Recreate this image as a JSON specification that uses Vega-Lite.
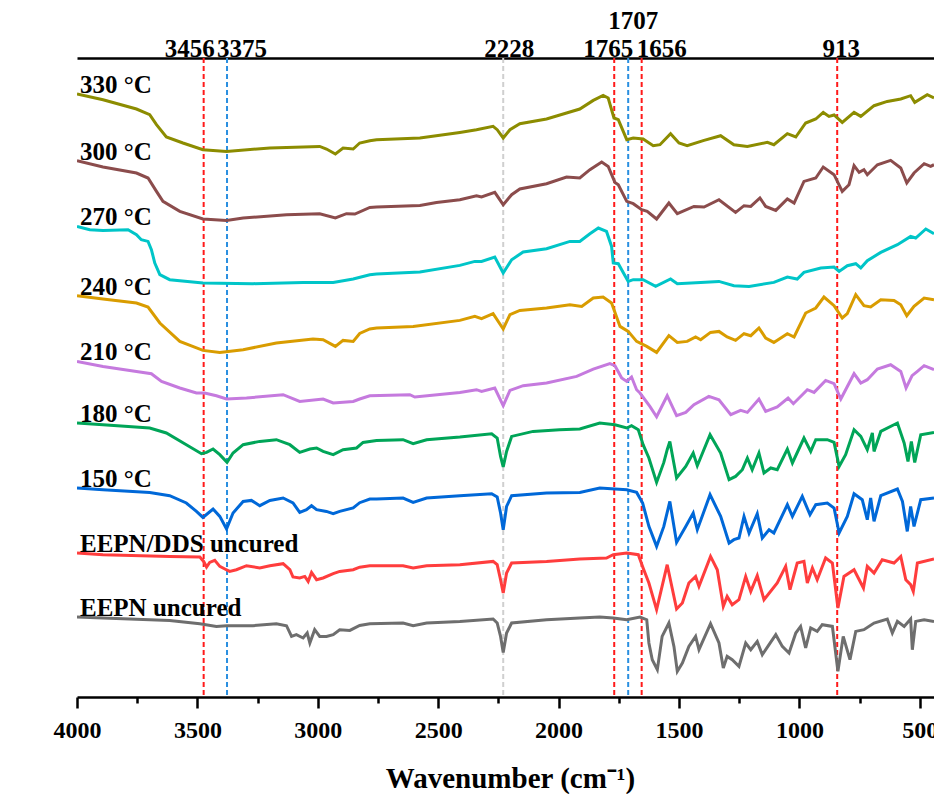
{
"$schema":"https://vega.github.io/schema/vega-lite/v6.json",
"width":857,"height":639,
"autosize":{"type":"none"},
"padding":{"left":77,"top":58,"right":0,"bottom":97},
"background":"white",
"config":{"view":{"stroke":null},"font":"Liberation Serif","axis":{"ticks":true,"tickOpacity":1,"tickColor":"#000000"}},
"resolve":{"axis":{"x":"independent"}},
"datasets":{
"peaks":[{"label":"3456","wn":3474},{"label":"3375","wn":3377},{"label":"2228","wn":2230},{"label":"1765","wn":1769},{"label":"1707","wn":1711},{"label":"1656","wn":1655},{"label":"913","wn":843}],
"spectra":[
{"s":"330 °C","w":4000,"t":603},{"s":"330 °C","w":3892,"t":597.3},{"s":"330 °C","w":3753,"t":588},{"s":"330 °C","w":3698,"t":582.3},{"s":"330 °C","w":3670,"t":572.3},{"s":"330 °C","w":3629,"t":560},{"s":"330 °C","w":3560,"t":554},{"s":"330 °C","w":3477,"t":547.3},{"s":"330 °C","w":3379,"t":545.6},{"s":"330 °C","w":3199,"t":549},{"s":"330 °C","w":2992,"t":550.6},{"s":"330 °C","w":2964,"t":548},{"s":"330 °C","w":2927,"t":543},{"s":"330 °C","w":2895,"t":549},{"s":"330 °C","w":2853,"t":548},{"s":"330 °C","w":2826,"t":554},{"s":"330 °C","w":2784,"t":556.3},{"s":"330 °C","w":2756,"t":557.3},{"s":"330 °C","w":2576,"t":559},{"s":"330 °C","w":2410,"t":564.6},{"s":"330 °C","w":2341,"t":567.3},{"s":"330 °C","w":2272,"t":570.6},{"s":"330 °C","w":2255,"t":567.3},{"s":"330 °C","w":2230,"t":559},{"s":"330 °C","w":2202,"t":567.3},{"s":"330 °C","w":2161,"t":573.3},{"s":"330 °C","w":2050,"t":578},{"s":"330 °C","w":1967,"t":584},{"s":"330 °C","w":1912,"t":588},{"s":"330 °C","w":1856,"t":596.6},{"s":"330 °C","w":1815,"t":601.6},{"s":"330 °C","w":1794,"t":599},{"s":"330 °C","w":1770,"t":579},{"s":"330 °C","w":1752,"t":577.3},{"s":"330 °C","w":1717,"t":557.3},{"s":"330 °C","w":1690,"t":559},{"s":"330 °C","w":1649,"t":558},{"s":"330 °C","w":1607,"t":551.3},{"s":"330 °C","w":1579,"t":552.3},{"s":"330 °C","w":1535,"t":563.3},{"s":"330 °C","w":1500,"t":554},{"s":"330 °C","w":1466,"t":551.3},{"s":"330 °C","w":1396,"t":556.6},{"s":"330 °C","w":1327,"t":561.3},{"s":"330 °C","w":1272,"t":552.3},{"s":"330 °C","w":1216,"t":550.6},{"s":"330 °C","w":1133,"t":554.6},{"s":"330 °C","w":1106,"t":552.3},{"s":"330 °C","w":1050,"t":563.3},{"s":"330 °C","w":1015,"t":560},{"s":"330 °C","w":974,"t":574},{"s":"330 °C","w":932,"t":578},{"s":"330 °C","w":901,"t":584.6},{"s":"330 °C","w":877,"t":580.6},{"s":"330 °C","w":856,"t":582},{"s":"330 °C","w":822,"t":574.6},{"s":"330 °C","w":773,"t":584.6},{"s":"330 °C","w":745,"t":580.6},{"s":"330 °C","w":690,"t":591.3},{"s":"330 °C","w":635,"t":595.6},{"s":"330 °C","w":579,"t":598},{"s":"330 °C","w":538,"t":601.3},{"s":"330 °C","w":521,"t":594.6},{"s":"330 °C","w":469,"t":602.3},{"s":"330 °C","w":441,"t":599},
{"s":"300 °C","w":4000,"t":536.3},{"s":"300 °C","w":3892,"t":530},{"s":"300 °C","w":3753,"t":524},{"s":"300 °C","w":3705,"t":519},{"s":"300 °C","w":3670,"t":505.6},{"s":"300 °C","w":3643,"t":495.6},{"s":"300 °C","w":3573,"t":485.6},{"s":"300 °C","w":3477,"t":478},{"s":"300 °C","w":3379,"t":476.6},{"s":"300 °C","w":3310,"t":479},{"s":"300 °C","w":3130,"t":482.3},{"s":"300 °C","w":2992,"t":483.3},{"s":"300 °C","w":2927,"t":479},{"s":"300 °C","w":2881,"t":483.3},{"s":"300 °C","w":2846,"t":483},{"s":"300 °C","w":2784,"t":489.6},{"s":"300 °C","w":2756,"t":490},{"s":"300 °C","w":2576,"t":491.6},{"s":"300 °C","w":2507,"t":494.6},{"s":"300 °C","w":2410,"t":497.3},{"s":"300 °C","w":2341,"t":501.3},{"s":"300 °C","w":2320,"t":500},{"s":"300 °C","w":2265,"t":504.6},{"s":"300 °C","w":2230,"t":492.3},{"s":"300 °C","w":2195,"t":502.3},{"s":"300 °C","w":2161,"t":508},{"s":"300 °C","w":2050,"t":513.3},{"s":"300 °C","w":1967,"t":520},{"s":"300 °C","w":1912,"t":519},{"s":"300 °C","w":1870,"t":527.3},{"s":"300 °C","w":1821,"t":535},{"s":"300 °C","w":1794,"t":530.6},{"s":"300 °C","w":1766,"t":514.6},{"s":"300 °C","w":1752,"t":512.3},{"s":"300 °C","w":1717,"t":495.6},{"s":"300 °C","w":1690,"t":493.3},{"s":"300 °C","w":1655,"t":487.3},{"s":"300 °C","w":1632,"t":485.6},{"s":"300 °C","w":1593,"t":478},{"s":"300 °C","w":1542,"t":494},{"s":"300 °C","w":1507,"t":483.3},{"s":"300 °C","w":1438,"t":490.6},{"s":"300 °C","w":1396,"t":490},{"s":"300 °C","w":1334,"t":497.3},{"s":"300 °C","w":1265,"t":484.6},{"s":"300 °C","w":1230,"t":491.3},{"s":"300 °C","w":1202,"t":490.6},{"s":"300 °C","w":1164,"t":499},{"s":"300 °C","w":1140,"t":490.6},{"s":"300 °C","w":1098,"t":486.6},{"s":"300 °C","w":1050,"t":498},{"s":"300 °C","w":1022,"t":494},{"s":"300 °C","w":981,"t":515.6},{"s":"300 °C","w":932,"t":519},{"s":"300 °C","w":901,"t":530},{"s":"300 °C","w":856,"t":522.3},{"s":"300 °C","w":822,"t":505.6},{"s":"300 °C","w":794,"t":512.3},{"s":"300 °C","w":773,"t":531.3},{"s":"300 °C","w":752,"t":524.6},{"s":"300 °C","w":732,"t":527.3},{"s":"300 °C","w":718,"t":522.3},{"s":"300 °C","w":676,"t":532.3},{"s":"300 °C","w":621,"t":536.6},{"s":"300 °C","w":579,"t":529},{"s":"300 °C","w":554,"t":514},{"s":"300 °C","w":524,"t":524},{"s":"300 °C","w":482,"t":533.3},{"s":"300 °C","w":455,"t":530.6},{"s":"300 °C","w":441,"t":532.3},
{"s":"270 °C","w":4000,"t":470.6},{"s":"270 °C","w":3947,"t":467.3},{"s":"270 °C","w":3892,"t":466.6},{"s":"270 °C","w":3788,"t":467.3},{"s":"270 °C","w":3753,"t":462.3},{"s":"270 °C","w":3733,"t":457.3},{"s":"270 °C","w":3705,"t":455.6},{"s":"270 °C","w":3691,"t":447.3},{"s":"270 °C","w":3677,"t":434},{"s":"270 °C","w":3656,"t":422.3},{"s":"270 °C","w":3615,"t":417.3},{"s":"270 °C","w":3477,"t":414},{"s":"270 °C","w":3269,"t":413.3},{"s":"270 °C","w":3061,"t":414.6},{"s":"270 °C","w":2936,"t":414.6},{"s":"270 °C","w":2853,"t":418},{"s":"270 °C","w":2784,"t":422.3},{"s":"270 °C","w":2756,"t":423},{"s":"270 °C","w":2576,"t":425},{"s":"270 °C","w":2410,"t":431.6},{"s":"270 °C","w":2348,"t":435.6},{"s":"270 °C","w":2320,"t":435.6},{"s":"270 °C","w":2265,"t":440},{"s":"270 °C","w":2230,"t":424},{"s":"270 °C","w":2195,"t":437.3},{"s":"270 °C","w":2147,"t":445},{"s":"270 °C","w":2050,"t":448.3},{"s":"270 °C","w":1953,"t":455.6},{"s":"270 °C","w":1912,"t":455.6},{"s":"270 °C","w":1870,"t":463.3},{"s":"270 °C","w":1835,"t":469},{"s":"270 °C","w":1801,"t":465.6},{"s":"270 °C","w":1780,"t":450.6},{"s":"270 °C","w":1773,"t":434},{"s":"270 °C","w":1752,"t":433.3},{"s":"270 °C","w":1711,"t":415.6},{"s":"270 °C","w":1690,"t":417.3},{"s":"270 °C","w":1649,"t":417.3},{"s":"270 °C","w":1597,"t":410.6},{"s":"270 °C","w":1535,"t":418},{"s":"270 °C","w":1507,"t":413.3},{"s":"270 °C","w":1410,"t":414.6},{"s":"270 °C","w":1334,"t":415.6},{"s":"270 °C","w":1272,"t":411.3},{"s":"270 °C","w":1209,"t":410.6},{"s":"270 °C","w":1106,"t":414.6},{"s":"270 °C","w":1050,"t":420},{"s":"270 °C","w":1009,"t":418},{"s":"270 °C","w":981,"t":424.6},{"s":"270 °C","w":911,"t":429},{"s":"270 °C","w":856,"t":430},{"s":"270 °C","w":835,"t":425.6},{"s":"270 °C","w":801,"t":431.3},{"s":"270 °C","w":766,"t":433.3},{"s":"270 °C","w":745,"t":429},{"s":"270 °C","w":718,"t":436.3},{"s":"270 °C","w":662,"t":444.6},{"s":"270 °C","w":593,"t":452.3},{"s":"270 °C","w":538,"t":460.6},{"s":"270 °C","w":517,"t":459},{"s":"270 °C","w":475,"t":468},{"s":"270 °C","w":441,"t":463.3},
{"s":"240 °C","w":4000,"t":401.3},{"s":"240 °C","w":3892,"t":398},{"s":"240 °C","w":3753,"t":394},{"s":"240 °C","w":3705,"t":390},{"s":"240 °C","w":3656,"t":374},{"s":"240 °C","w":3573,"t":355.6},{"s":"240 °C","w":3477,"t":346.6},{"s":"240 °C","w":3407,"t":344.6},{"s":"240 °C","w":3310,"t":347.3},{"s":"240 °C","w":3172,"t":354},{"s":"240 °C","w":3020,"t":358},{"s":"240 °C","w":2978,"t":357.3},{"s":"240 °C","w":2927,"t":350.6},{"s":"240 °C","w":2895,"t":356.6},{"s":"240 °C","w":2853,"t":355.6},{"s":"240 °C","w":2826,"t":363.5},{"s":"240 °C","w":2784,"t":368},{"s":"240 °C","w":2756,"t":369},{"s":"240 °C","w":2604,"t":370.6},{"s":"240 °C","w":2410,"t":376.6},{"s":"240 °C","w":2348,"t":380.6},{"s":"240 °C","w":2320,"t":378.3},{"s":"240 °C","w":2272,"t":383.3},{"s":"240 °C","w":2230,"t":368},{"s":"240 °C","w":2202,"t":382.3},{"s":"240 °C","w":2161,"t":386.6},{"s":"240 °C","w":2050,"t":389},{"s":"240 °C","w":1953,"t":392.3},{"s":"240 °C","w":1904,"t":390.6},{"s":"240 °C","w":1856,"t":399},{"s":"240 °C","w":1815,"t":400},{"s":"240 °C","w":1780,"t":394},{"s":"240 °C","w":1745,"t":370.6},{"s":"240 °C","w":1711,"t":365.6},{"s":"240 °C","w":1676,"t":355.6},{"s":"240 °C","w":1634,"t":350.6},{"s":"240 °C","w":1593,"t":344.6},{"s":"240 °C","w":1542,"t":361.3},{"s":"240 °C","w":1507,"t":354.6},{"s":"240 °C","w":1466,"t":355.6},{"s":"240 °C","w":1431,"t":360},{"s":"240 °C","w":1410,"t":357.3},{"s":"240 °C","w":1369,"t":364.6},{"s":"240 °C","w":1334,"t":365.6},{"s":"240 °C","w":1300,"t":360},{"s":"240 °C","w":1265,"t":356.6},{"s":"240 °C","w":1230,"t":363.3},{"s":"240 °C","w":1202,"t":361.3},{"s":"240 °C","w":1168,"t":369},{"s":"240 °C","w":1140,"t":359},{"s":"240 °C","w":1106,"t":354.6},{"s":"240 °C","w":1050,"t":363.3},{"s":"240 °C","w":1022,"t":360},{"s":"240 °C","w":974,"t":384},{"s":"240 °C","w":932,"t":389},{"s":"240 °C","w":898,"t":400},{"s":"240 °C","w":856,"t":391.3},{"s":"240 °C","w":822,"t":379},{"s":"240 °C","w":801,"t":383.3},{"s":"240 °C","w":766,"t":402.3},{"s":"240 °C","w":732,"t":391.3},{"s":"240 °C","w":704,"t":390},{"s":"240 °C","w":662,"t":397.3},{"s":"240 °C","w":607,"t":396.6},{"s":"240 °C","w":579,"t":392.3},{"s":"240 °C","w":554,"t":381.3},{"s":"240 °C","w":524,"t":390.6},{"s":"240 °C","w":482,"t":399},{"s":"240 °C","w":441,"t":397.3},
{"s":"210 °C","w":4000,"t":335.6},{"s":"210 °C","w":3892,"t":330.6},{"s":"210 °C","w":3753,"t":325.6},{"s":"210 °C","w":3691,"t":323.3},{"s":"210 °C","w":3649,"t":315.6},{"s":"210 °C","w":3573,"t":309},{"s":"210 °C","w":3504,"t":304},{"s":"210 °C","w":3470,"t":304},{"s":"210 °C","w":3421,"t":301.3},{"s":"210 °C","w":3379,"t":298},{"s":"210 °C","w":3296,"t":299},{"s":"210 °C","w":3144,"t":302.3},{"s":"210 °C","w":3075,"t":295.6},{"s":"210 °C","w":2978,"t":298},{"s":"210 °C","w":2936,"t":294},{"s":"210 °C","w":2853,"t":295.6},{"s":"210 °C","w":2826,"t":298},{"s":"210 °C","w":2784,"t":301.3},{"s":"210 °C","w":2618,"t":302.3},{"s":"210 °C","w":2597,"t":300},{"s":"210 °C","w":2410,"t":304.6},{"s":"210 °C","w":2341,"t":307.3},{"s":"210 °C","w":2320,"t":305.6},{"s":"210 °C","w":2265,"t":309},{"s":"210 °C","w":2230,"t":291.3},{"s":"210 °C","w":2202,"t":306.6},{"s":"210 °C","w":2147,"t":311.3},{"s":"210 °C","w":2050,"t":314},{"s":"210 °C","w":1925,"t":320.6},{"s":"210 °C","w":1856,"t":327.8},{"s":"210 °C","w":1787,"t":333.3},{"s":"210 °C","w":1766,"t":331.3},{"s":"210 °C","w":1738,"t":319},{"s":"210 °C","w":1717,"t":315.6},{"s":"210 °C","w":1697,"t":320},{"s":"210 °C","w":1676,"t":307.3},{"s":"210 °C","w":1662,"t":304},{"s":"210 °C","w":1621,"t":290.6},{"s":"210 °C","w":1593,"t":280.3},{"s":"210 °C","w":1549,"t":301.3},{"s":"210 °C","w":1510,"t":281.3},{"s":"210 °C","w":1472,"t":284.6},{"s":"210 °C","w":1438,"t":292.3},{"s":"210 °C","w":1376,"t":300.6},{"s":"210 °C","w":1334,"t":297.3},{"s":"210 °C","w":1285,"t":282.3},{"s":"210 °C","w":1244,"t":286.6},{"s":"210 °C","w":1216,"t":284.6},{"s":"210 °C","w":1168,"t":298},{"s":"210 °C","w":1140,"t":285.6},{"s":"210 °C","w":1092,"t":290},{"s":"210 °C","w":1047,"t":299},{"s":"210 °C","w":1025,"t":293.3},{"s":"210 °C","w":967,"t":307.3},{"s":"210 °C","w":939,"t":304.6},{"s":"210 °C","w":891,"t":316.6},{"s":"210 °C","w":856,"t":313.3},{"s":"210 °C","w":828,"t":298},{"s":"210 °C","w":773,"t":323.3},{"s":"210 °C","w":745,"t":314},{"s":"210 °C","w":718,"t":317.3},{"s":"210 °C","w":676,"t":328},{"s":"210 °C","w":621,"t":332.3},{"s":"210 °C","w":579,"t":325.6},{"s":"210 °C","w":557,"t":309},{"s":"210 °C","w":532,"t":321.3},{"s":"210 °C","w":510,"t":325.6},{"s":"210 °C","w":482,"t":331.3},{"s":"210 °C","w":441,"t":327.3},
{"s":"180 °C","w":4000,"t":274},{"s":"180 °C","w":3892,"t":272.3},{"s":"180 °C","w":3698,"t":269},{"s":"180 °C","w":3629,"t":264},{"s":"180 °C","w":3546,"t":252.3},{"s":"180 °C","w":3483,"t":243.3},{"s":"180 °C","w":3462,"t":244.6},{"s":"180 °C","w":3435,"t":248},{"s":"180 °C","w":3407,"t":242.3},{"s":"180 °C","w":3377,"t":234.6},{"s":"180 °C","w":3352,"t":244},{"s":"180 °C","w":3310,"t":252.3},{"s":"180 °C","w":3241,"t":255.6},{"s":"180 °C","w":3172,"t":257.3},{"s":"180 °C","w":3116,"t":252.3},{"s":"180 °C","w":3075,"t":244.6},{"s":"180 °C","w":3033,"t":248},{"s":"180 °C","w":3005,"t":249},{"s":"180 °C","w":2978,"t":245.6},{"s":"180 °C","w":2936,"t":242.3},{"s":"180 °C","w":2895,"t":247.3},{"s":"180 °C","w":2839,"t":249},{"s":"180 °C","w":2812,"t":254.6},{"s":"180 °C","w":2756,"t":256.6},{"s":"180 °C","w":2646,"t":257.3},{"s":"180 °C","w":2604,"t":253.3},{"s":"180 °C","w":2548,"t":257.3},{"s":"180 °C","w":2410,"t":260},{"s":"180 °C","w":2278,"t":263.3},{"s":"180 °C","w":2255,"t":259},{"s":"180 °C","w":2241,"t":240.6},{"s":"180 °C","w":2230,"t":230},{"s":"180 °C","w":2216,"t":245.6},{"s":"180 °C","w":2195,"t":260.6},{"s":"180 °C","w":2106,"t":265.6},{"s":"180 °C","w":1996,"t":267.3},{"s":"180 °C","w":1912,"t":268},{"s":"180 °C","w":1829,"t":274},{"s":"180 °C","w":1766,"t":272.3},{"s":"180 °C","w":1717,"t":269},{"s":"180 °C","w":1697,"t":271.3},{"s":"180 °C","w":1669,"t":267.3},{"s":"180 °C","w":1649,"t":252.3},{"s":"180 °C","w":1625,"t":239},{"s":"180 °C","w":1593,"t":214.6},{"s":"180 °C","w":1563,"t":234.6},{"s":"180 °C","w":1549,"t":247.3},{"s":"180 °C","w":1538,"t":255.6},{"s":"180 °C","w":1510,"t":219},{"s":"180 °C","w":1472,"t":230.6},{"s":"180 °C","w":1441,"t":244},{"s":"180 °C","w":1424,"t":231.3},{"s":"180 °C","w":1371,"t":262.3},{"s":"180 °C","w":1327,"t":244},{"s":"180 °C","w":1292,"t":217.3},{"s":"180 °C","w":1265,"t":220.6},{"s":"180 °C","w":1237,"t":227.3},{"s":"180 °C","w":1216,"t":239},{"s":"180 °C","w":1196,"t":227.3},{"s":"180 °C","w":1168,"t":244},{"s":"180 °C","w":1147,"t":224},{"s":"180 °C","w":1119,"t":229},{"s":"180 °C","w":1092,"t":227.3},{"s":"180 °C","w":1050,"t":248},{"s":"180 °C","w":1029,"t":234},{"s":"180 °C","w":981,"t":259},{"s":"180 °C","w":953,"t":245.6},{"s":"180 °C","w":932,"t":257.3},{"s":"180 °C","w":884,"t":257.3},{"s":"180 °C","w":856,"t":254.6},{"s":"180 °C","w":835,"t":230.6},{"s":"180 °C","w":808,"t":242.3},{"s":"180 °C","w":773,"t":267.3},{"s":"180 °C","w":745,"t":260.6},{"s":"180 °C","w":718,"t":247.3},{"s":"180 °C","w":697,"t":264},{"s":"180 °C","w":690,"t":245.6},{"s":"180 °C","w":662,"t":265.6},{"s":"180 °C","w":593,"t":274},{"s":"180 °C","w":565,"t":254},{"s":"180 °C","w":549,"t":235.6},{"s":"180 °C","w":535,"t":255.6},{"s":"180 °C","w":521,"t":234.6},{"s":"180 °C","w":496,"t":262.3},{"s":"180 °C","w":441,"t":264.6},
{"s":"150 °C","w":4000,"t":209},{"s":"150 °C","w":3892,"t":207.3},{"s":"150 °C","w":3698,"t":204.6},{"s":"150 °C","w":3615,"t":201.3},{"s":"150 °C","w":3546,"t":194},{"s":"150 °C","w":3504,"t":185.6},{"s":"150 °C","w":3477,"t":179.6},{"s":"150 °C","w":3435,"t":188},{"s":"150 °C","w":3407,"t":180.6},{"s":"150 °C","w":3379,"t":168},{"s":"150 °C","w":3352,"t":184},{"s":"150 °C","w":3310,"t":195.6},{"s":"150 °C","w":3276,"t":196.6},{"s":"150 °C","w":3241,"t":191.3},{"s":"150 °C","w":3199,"t":196.6},{"s":"150 °C","w":3144,"t":199},{"s":"150 °C","w":3103,"t":194},{"s":"150 °C","w":3075,"t":184.6},{"s":"150 °C","w":3047,"t":187.3},{"s":"150 °C","w":3026,"t":191.3},{"s":"150 °C","w":3005,"t":187.3},{"s":"150 °C","w":2964,"t":185.6},{"s":"150 °C","w":2936,"t":183.3},{"s":"150 °C","w":2909,"t":185.6},{"s":"150 °C","w":2853,"t":189},{"s":"150 °C","w":2826,"t":194.3},{"s":"150 °C","w":2784,"t":198},{"s":"150 °C","w":2756,"t":198},{"s":"150 °C","w":2646,"t":199},{"s":"150 °C","w":2604,"t":194.6},{"s":"150 °C","w":2548,"t":199},{"s":"150 °C","w":2410,"t":201.3},{"s":"150 °C","w":2278,"t":203.3},{"s":"150 °C","w":2255,"t":200},{"s":"150 °C","w":2241,"t":184},{"s":"150 °C","w":2230,"t":167.3},{"s":"150 °C","w":2216,"t":190.6},{"s":"150 °C","w":2195,"t":201.3},{"s":"150 °C","w":2050,"t":204},{"s":"150 °C","w":1912,"t":204.6},{"s":"150 °C","w":1829,"t":209},{"s":"150 °C","w":1717,"t":207.3},{"s":"150 °C","w":1676,"t":204.6},{"s":"150 °C","w":1651,"t":194},{"s":"150 °C","w":1625,"t":170.6},{"s":"150 °C","w":1593,"t":150.6},{"s":"150 °C","w":1563,"t":170.6},{"s":"150 °C","w":1538,"t":195.6},{"s":"150 °C","w":1510,"t":154.6},{"s":"150 °C","w":1472,"t":170.6},{"s":"150 °C","w":1441,"t":184},{"s":"150 °C","w":1424,"t":167.3},{"s":"150 °C","w":1371,"t":202.3},{"s":"150 °C","w":1327,"t":180.6},{"s":"150 °C","w":1292,"t":154},{"s":"150 °C","w":1272,"t":157.3},{"s":"150 °C","w":1251,"t":159},{"s":"150 °C","w":1230,"t":180.6},{"s":"150 °C","w":1209,"t":164},{"s":"150 °C","w":1175,"t":183.3},{"s":"150 °C","w":1154,"t":159},{"s":"150 °C","w":1126,"t":167.3},{"s":"150 °C","w":1106,"t":164},{"s":"150 °C","w":1050,"t":192.3},{"s":"150 °C","w":1029,"t":180.6},{"s":"150 °C","w":988,"t":200.6},{"s":"150 °C","w":956,"t":182.3},{"s":"150 °C","w":932,"t":192.3},{"s":"150 °C","w":884,"t":194},{"s":"150 °C","w":856,"t":189},{"s":"150 °C","w":835,"t":164},{"s":"150 °C","w":801,"t":180.6},{"s":"150 °C","w":773,"t":203.3},{"s":"150 °C","w":739,"t":197.3},{"s":"150 °C","w":718,"t":177.3},{"s":"150 °C","w":704,"t":199},{"s":"150 °C","w":690,"t":175.6},{"s":"150 °C","w":662,"t":201.3},{"s":"150 °C","w":593,"t":208},{"s":"150 °C","w":572,"t":195.6},{"s":"150 °C","w":552,"t":165.6},{"s":"150 °C","w":538,"t":190.6},{"s":"150 °C","w":524,"t":170.6},{"s":"150 °C","w":496,"t":197.3},{"s":"150 °C","w":441,"t":199},
{"s":"EEPN/DDS uncured","w":4000,"t":144},{"s":"EEPN/DDS uncured","w":3892,"t":142.3},{"s":"EEPN/DDS uncured","w":3615,"t":140.6},{"s":"EEPN/DDS uncured","w":3490,"t":140},{"s":"EEPN/DDS uncured","w":3474,"t":135.6},{"s":"EEPN/DDS uncured","w":3462,"t":130},{"s":"EEPN/DDS uncured","w":3449,"t":134.6},{"s":"EEPN/DDS uncured","w":3428,"t":136.6},{"s":"EEPN/DDS uncured","w":3407,"t":130.6},{"s":"EEPN/DDS uncured","w":3386,"t":128},{"s":"EEPN/DDS uncured","w":3366,"t":125.6},{"s":"EEPN/DDS uncured","w":3338,"t":127.3},{"s":"EEPN/DDS uncured","w":3296,"t":131.3},{"s":"EEPN/DDS uncured","w":3241,"t":129},{"s":"EEPN/DDS uncured","w":3199,"t":131.3},{"s":"EEPN/DDS uncured","w":3144,"t":133.3},{"s":"EEPN/DDS uncured","w":3116,"t":127.3},{"s":"EEPN/DDS uncured","w":3103,"t":120},{"s":"EEPN/DDS uncured","w":3075,"t":119},{"s":"EEPN/DDS uncured","w":3054,"t":120.6},{"s":"EEPN/DDS uncured","w":3040,"t":115.6},{"s":"EEPN/DDS uncured","w":3026,"t":124.6},{"s":"EEPN/DDS uncured","w":3005,"t":117.3},{"s":"EEPN/DDS uncured","w":2978,"t":119},{"s":"EEPN/DDS uncured","w":2936,"t":123.3},{"s":"EEPN/DDS uncured","w":2909,"t":125.6},{"s":"EEPN/DDS uncured","w":2853,"t":127.3},{"s":"EEPN/DDS uncured","w":2826,"t":129.8},{"s":"EEPN/DDS uncured","w":2784,"t":131.3},{"s":"EEPN/DDS uncured","w":2646,"t":131.3},{"s":"EEPN/DDS uncured","w":2604,"t":129},{"s":"EEPN/DDS uncured","w":2548,"t":131.3},{"s":"EEPN/DDS uncured","w":2410,"t":132.3},{"s":"EEPN/DDS uncured","w":2272,"t":135.6},{"s":"EEPN/DDS uncured","w":2255,"t":132.3},{"s":"EEPN/DDS uncured","w":2241,"t":117.3},{"s":"EEPN/DDS uncured","w":2230,"t":104},{"s":"EEPN/DDS uncured","w":2216,"t":124},{"s":"EEPN/DDS uncured","w":2195,"t":134},{"s":"EEPN/DDS uncured","w":2050,"t":135.6},{"s":"EEPN/DDS uncured","w":1912,"t":138},{"s":"EEPN/DDS uncured","w":1801,"t":139},{"s":"EEPN/DDS uncured","w":1773,"t":142.3},{"s":"EEPN/DDS uncured","w":1717,"t":144},{"s":"EEPN/DDS uncured","w":1669,"t":142.3},{"s":"EEPN/DDS uncured","w":1649,"t":129},{"s":"EEPN/DDS uncured","w":1625,"t":114},{"s":"EEPN/DDS uncured","w":1593,"t":87.3},{"s":"EEPN/DDS uncured","w":1549,"t":132.3},{"s":"EEPN/DDS uncured","w":1510,"t":88},{"s":"EEPN/DDS uncured","w":1486,"t":94},{"s":"EEPN/DDS uncured","w":1459,"t":114},{"s":"EEPN/DDS uncured","w":1431,"t":120.6},{"s":"EEPN/DDS uncured","w":1417,"t":110.6},{"s":"EEPN/DDS uncured","w":1369,"t":140.6},{"s":"EEPN/DDS uncured","w":1341,"t":127.3},{"s":"EEPN/DDS uncured","w":1316,"t":90.6},{"s":"EEPN/DDS uncured","w":1300,"t":100.6},{"s":"EEPN/DDS uncured","w":1279,"t":92.3},{"s":"EEPN/DDS uncured","w":1251,"t":97.3},{"s":"EEPN/DDS uncured","w":1223,"t":120.6},{"s":"EEPN/DDS uncured","w":1202,"t":105.6},{"s":"EEPN/DDS uncured","w":1175,"t":121.3},{"s":"EEPN/DDS uncured","w":1147,"t":97.3},{"s":"EEPN/DDS uncured","w":1092,"t":114},{"s":"EEPN/DDS uncured","w":1057,"t":130.6},{"s":"EEPN/DDS uncured","w":1039,"t":107.3},{"s":"EEPN/DDS uncured","w":1009,"t":134},{"s":"EEPN/DDS uncured","w":981,"t":135.6},{"s":"EEPN/DDS uncured","w":967,"t":114},{"s":"EEPN/DDS uncured","w":946,"t":129},{"s":"EEPN/DDS uncured","w":926,"t":117.3},{"s":"EEPN/DDS uncured","w":891,"t":139},{"s":"EEPN/DDS uncured","w":863,"t":134},{"s":"EEPN/DDS uncured","w":840,"t":89},{"s":"EEPN/DDS uncured","w":815,"t":120.6},{"s":"EEPN/DDS uncured","w":773,"t":127.3},{"s":"EEPN/DDS uncured","w":734,"t":109},{"s":"EEPN/DDS uncured","w":718,"t":130.6},{"s":"EEPN/DDS uncured","w":690,"t":124},{"s":"EEPN/DDS uncured","w":656,"t":137.3},{"s":"EEPN/DDS uncured","w":607,"t":134},{"s":"EEPN/DDS uncured","w":579,"t":140.6},{"s":"EEPN/DDS uncured","w":558,"t":117.3},{"s":"EEPN/DDS uncured","w":538,"t":112.3},{"s":"EEPN/DDS uncured","w":527,"t":105.6},{"s":"EEPN/DDS uncured","w":510,"t":134},{"s":"EEPN/DDS uncured","w":441,"t":138},
{"s":"EEPN uncured","w":4000,"t":80},{"s":"EEPN uncured","w":3892,"t":79},{"s":"EEPN uncured","w":3615,"t":76.6},{"s":"EEPN uncured","w":3490,"t":73.3},{"s":"EEPN uncured","w":3421,"t":70.6},{"s":"EEPN uncured","w":3379,"t":71.3},{"s":"EEPN uncured","w":3269,"t":71.3},{"s":"EEPN uncured","w":3172,"t":73.3},{"s":"EEPN uncured","w":3130,"t":71.3},{"s":"EEPN uncured","w":3109,"t":60.6},{"s":"EEPN uncured","w":3089,"t":62.3},{"s":"EEPN uncured","w":3061,"t":59},{"s":"EEPN uncured","w":3044,"t":64},{"s":"EEPN uncured","w":3033,"t":54},{"s":"EEPN uncured","w":3013,"t":67.3},{"s":"EEPN uncured","w":2992,"t":60.6},{"s":"EEPN uncured","w":2964,"t":60.6},{"s":"EEPN uncured","w":2936,"t":62.3},{"s":"EEPN uncured","w":2909,"t":67.3},{"s":"EEPN uncured","w":2867,"t":66.6},{"s":"EEPN uncured","w":2826,"t":71.5},{"s":"EEPN uncured","w":2784,"t":73.3},{"s":"EEPN uncured","w":2646,"t":74},{"s":"EEPN uncured","w":2604,"t":71.3},{"s":"EEPN uncured","w":2548,"t":74},{"s":"EEPN uncured","w":2410,"t":75.6},{"s":"EEPN uncured","w":2272,"t":78},{"s":"EEPN uncured","w":2255,"t":74},{"s":"EEPN uncured","w":2241,"t":60.6},{"s":"EEPN uncured","w":2230,"t":44.6},{"s":"EEPN uncured","w":2216,"t":64},{"s":"EEPN uncured","w":2195,"t":74},{"s":"EEPN uncured","w":2050,"t":77.3},{"s":"EEPN uncured","w":1912,"t":79},{"s":"EEPN uncured","w":1829,"t":80},{"s":"EEPN uncured","w":1773,"t":79},{"s":"EEPN uncured","w":1717,"t":77.3},{"s":"EEPN uncured","w":1662,"t":80},{"s":"EEPN uncured","w":1634,"t":77.3},{"s":"EEPN uncured","w":1625,"t":54},{"s":"EEPN uncured","w":1611,"t":37.3},{"s":"EEPN uncured","w":1590,"t":27.3},{"s":"EEPN uncured","w":1570,"t":60.6},{"s":"EEPN uncured","w":1542,"t":74},{"s":"EEPN uncured","w":1521,"t":50.6},{"s":"EEPN uncured","w":1507,"t":25.6},{"s":"EEPN uncured","w":1486,"t":34},{"s":"EEPN uncured","w":1459,"t":50.6},{"s":"EEPN uncured","w":1431,"t":60.6},{"s":"EEPN uncured","w":1417,"t":47.3},{"s":"EEPN uncured","w":1369,"t":73.3},{"s":"EEPN uncured","w":1334,"t":54},{"s":"EEPN uncured","w":1316,"t":29},{"s":"EEPN uncured","w":1300,"t":40.6},{"s":"EEPN uncured","w":1279,"t":37.3},{"s":"EEPN uncured","w":1251,"t":30.6},{"s":"EEPN uncured","w":1223,"t":54},{"s":"EEPN uncured","w":1202,"t":47.3},{"s":"EEPN uncured","w":1175,"t":55.6},{"s":"EEPN uncured","w":1154,"t":42.3},{"s":"EEPN uncured","w":1126,"t":52.3},{"s":"EEPN uncured","w":1098,"t":62.3},{"s":"EEPN uncured","w":1071,"t":50.6},{"s":"EEPN uncured","w":1043,"t":44},{"s":"EEPN uncured","w":1015,"t":64},{"s":"EEPN uncured","w":995,"t":70.6},{"s":"EEPN uncured","w":974,"t":49},{"s":"EEPN uncured","w":953,"t":69},{"s":"EEPN uncured","w":926,"t":65.6},{"s":"EEPN uncured","w":905,"t":72.3},{"s":"EEPN uncured","w":863,"t":70.6},{"s":"EEPN uncured","w":840,"t":25.6},{"s":"EEPN uncured","w":818,"t":60.6},{"s":"EEPN uncured","w":790,"t":37.3},{"s":"EEPN uncured","w":766,"t":65.6},{"s":"EEPN uncured","w":732,"t":67.3},{"s":"EEPN uncured","w":690,"t":74},{"s":"EEPN uncured","w":635,"t":78},{"s":"EEPN uncured","w":614,"t":64},{"s":"EEPN uncured","w":593,"t":75.6},{"s":"EEPN uncured","w":565,"t":70.6},{"s":"EEPN uncured","w":538,"t":78},{"s":"EEPN uncured","w":531,"t":47.3},{"s":"EEPN uncured","w":517,"t":75.6},{"s":"EEPN uncured","w":482,"t":77.3},{"s":"EEPN uncured","w":441,"t":75.6}
]},
"layer":[
{"data":{"name":"peaks"},"mark":{"type":"rule","strokeDash":[5,3],"strokeWidth":2},
 "encoding":{
  "x":{"field":"wn","type":"quantitative","scale":{"domain":[441,4000],"reverse":true,"nice":false,"zero":false},
   "axis":{"orient":"top","labels":false,"ticks":false,"grid":false,"title":null,"domainColor":"black","domainWidth":2.5}},
  "stroke":{"field":"label","type":"nominal","scale":{"domain":["3456","3375","2228","1765","1707","1656","913"],"range":["#ff1a1a","#2a8fe0","#cfcfcf","#ff1a1a","#2a8fe0","#ff1a1a","#ff1a1a"]},"legend":null}}},
{"data":{"name":"spectra"},"mark":{"type":"line","strokeWidth":3,"clip":true},
 "encoding":{
  "x":{"field":"w","type":"quantitative","scale":{"domain":[441,4000],"reverse":true,"nice":false,"zero":false},
   "axis":{"orient":"bottom","values":[4000,3500,3000,2500,2000,1500,1000,500],"format":"d",
    "ticks":true,"tickSize":11,"tickWidth":2.5,"tickColor":"#000000","tickOpacity":1,"domainColor":"black","domainWidth":2.5,"grid":false,
    "labelFont":"Liberation Serif","labelFontSize":24,"labelFontWeight":"bold","labelColor":"black","labelPadding":10,
    "labelOverlap":false,"labelFlush":false,"labelBound":false,
    "title":"Wavenumber (cm⁻¹)","titleFont":"Liberation Serif","titleFontSize":29,"titleFontWeight":"bold","titleColor":"black",
    "titleX":433,"titleY":90,"titleBaseline":"alphabetic","titleAlign":"center"}},
  "y":{"field":"t","type":"quantitative","scale":{"domain":[0,639],"nice":false,"zero":false},
   "axis":{"orient":"left","labels":false,"ticks":false,"grid":false,"domainColor":"black","domainWidth":2.5,
    "title":"Transmittance (%)","titleFont":"Liberation Serif","titleFontSize":29,"titleFontWeight":"bold","titleColor":"black",
    "titleX":-49,"titleY":320,"titleAngle":-90,"titleBaseline":"middle","titleAlign":"center"}},
  "color":{"field":"s","type":"nominal","scale":{"domain":["330 °C","300 °C","270 °C","240 °C","210 °C","180 °C","150 °C","EEPN/DDS uncured","EEPN uncured"],
   "range":["#8c8c00","#8b4c4c","#00c5c8","#d99c00","#c57ade","#00a558","#0068d8","#ff3d3d","#6e6e6e"]},"legend":null}}},
{"data":{"name":"spectra"},"transform":[{"filter":"datum.w === 4000"}],
 "mark":{"type":"text","align":"left","baseline":"alphabetic","dx":3,"dy":-1,"fontSize":25,"fontWeight":"bold","font":"Liberation Serif","color":"black"},
 "encoding":{"x":{"field":"w","type":"quantitative","scale":{"domain":[441,4000],"reverse":true,"nice":false,"zero":false},
   "axis":{"orient":"bottom","values":[3750,3250,2750,2250,1750,1250,750],"labels":false,"domain":false,"grid":false,"title":null,"ticks":true,"tickSize":6,"tickWidth":2.5,"tickColor":"#000000","tickOpacity":1}},
  "y":{"field":"t","type":"quantitative","scale":{"domain":[0,639],"nice":false,"zero":false},"axis":null},
  "text":{"field":"s"}}},
{"data":{"name":"peaks"},"transform":[{"filter":"datum.label === '3456'"}],
 "mark":{"type":"text","baseline":"alphabetic","dx":-14,"dy":-1,"fontSize":25,"fontWeight":"bold","font":"Liberation Serif","color":"black"},
 "encoding":{"x":{"field":"wn","type":"quantitative","scale":{"domain":[441,4000],"reverse":true,"nice":false,"zero":false},"axis":null},
  "y":{"datum":639,"type":"quantitative","scale":{"domain":[0,639],"nice":false,"zero":false},"axis":null},"text":{"field":"label"}}},
{"data":{"name":"peaks"},"transform":[{"filter":"datum.label === '3375'"}],
 "mark":{"type":"text","baseline":"alphabetic","dx":15,"dy":-1,"fontSize":25,"fontWeight":"bold","font":"Liberation Serif","color":"black"},
 "encoding":{"x":{"field":"wn","type":"quantitative","scale":{"domain":[441,4000],"reverse":true,"nice":false,"zero":false},"axis":null},
  "y":{"datum":639,"type":"quantitative","scale":{"domain":[0,639],"nice":false,"zero":false},"axis":null},"text":{"field":"label"}}},
{"data":{"name":"peaks"},"transform":[{"filter":"datum.label === '2228'"}],
 "mark":{"type":"text","baseline":"alphabetic","dx":6,"dy":-1,"fontSize":25,"fontWeight":"bold","font":"Liberation Serif","color":"black"},
 "encoding":{"x":{"field":"wn","type":"quantitative","scale":{"domain":[441,4000],"reverse":true,"nice":false,"zero":false},"axis":null},
  "y":{"datum":639,"type":"quantitative","scale":{"domain":[0,639],"nice":false,"zero":false},"axis":null},"text":{"field":"label"}}},
{"data":{"name":"peaks"},"transform":[{"filter":"datum.label === '1765'"}],
 "mark":{"type":"text","baseline":"alphabetic","dx":-6,"dy":-1,"fontSize":25,"fontWeight":"bold","font":"Liberation Serif","color":"black"},
 "encoding":{"x":{"field":"wn","type":"quantitative","scale":{"domain":[441,4000],"reverse":true,"nice":false,"zero":false},"axis":null},
  "y":{"datum":639,"type":"quantitative","scale":{"domain":[0,639],"nice":false,"zero":false},"axis":null},"text":{"field":"label"}}},
{"data":{"name":"peaks"},"transform":[{"filter":"datum.label === '1707'"}],
 "mark":{"type":"text","baseline":"alphabetic","dx":5,"dy":-29,"fontSize":25,"fontWeight":"bold","font":"Liberation Serif","color":"black"},
 "encoding":{"x":{"field":"wn","type":"quantitative","scale":{"domain":[441,4000],"reverse":true,"nice":false,"zero":false},"axis":null},
  "y":{"datum":639,"type":"quantitative","scale":{"domain":[0,639],"nice":false,"zero":false},"axis":null},"text":{"field":"label"}}},
{"data":{"name":"peaks"},"transform":[{"filter":"datum.label === '1656'"}],
 "mark":{"type":"text","baseline":"alphabetic","dx":20,"dy":-1,"fontSize":25,"fontWeight":"bold","font":"Liberation Serif","color":"black"},
 "encoding":{"x":{"field":"wn","type":"quantitative","scale":{"domain":[441,4000],"reverse":true,"nice":false,"zero":false},"axis":null},
  "y":{"datum":639,"type":"quantitative","scale":{"domain":[0,639],"nice":false,"zero":false},"axis":null},"text":{"field":"label"}}},
{"data":{"name":"peaks"},"transform":[{"filter":"datum.label === '913'"}],
 "mark":{"type":"text","baseline":"alphabetic","dx":4,"dy":-1,"fontSize":25,"fontWeight":"bold","font":"Liberation Serif","color":"black"},
 "encoding":{"x":{"field":"wn","type":"quantitative","scale":{"domain":[441,4000],"reverse":true,"nice":false,"zero":false},"axis":null},
  "y":{"datum":639,"type":"quantitative","scale":{"domain":[0,639],"nice":false,"zero":false},"axis":null},"text":{"field":"label"}}}
]
}
